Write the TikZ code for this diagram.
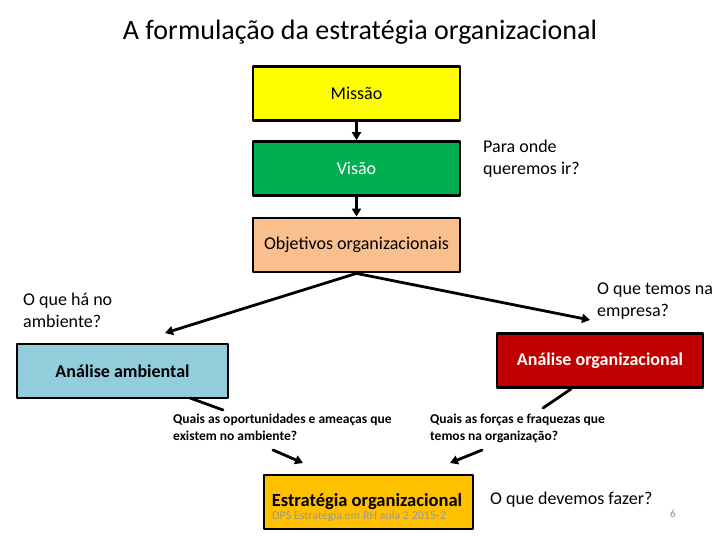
\documentclass[tikz,border=0pt]{standalone}
\usepackage{fontspec}
\setmainfont{Carlito}
\usetikzlibrary{arrows.meta}
\definecolor{amarelo}{RGB}{255,255,0}
\definecolor{verde}{RGB}{0,176,80}
\definecolor{pessego}{RGB}{250,191,143}
\definecolor{azulclaro}{RGB}{146,205,220}
\definecolor{vermelho}{RGB}{192,0,0}
\definecolor{ouro}{RGB}{255,192,0}
\tikzset{
  caixa/.style={draw=black,line width=2.8pt,minimum width=207pt,minimum height=54pt,inner sep=0pt},
  seta/.style={line width=2.8pt,-{Triangle[length=8pt,width=9pt]}},
  traco/.style={line width=2.8pt},
  pergunta/.style={anchor=north west,align=left,inner sep=0pt,font=\fontsize{18}{22}\selectfont},
  nota/.style={anchor=north west,align=left,inner sep=0pt,font=\bfseries\fontsize{13.5}{17}\selectfont}
}
\begin{document}
\begin{tikzpicture}[line cap=round,line join=round,x=1pt,y=-1pt]
    \useasboundingbox (0,0) rectangle (720,540);

    % titulo
    \node (titulo) at (360,32) {\fontsize{28}{32}\selectfont A formulação da estratégia organizacional};

    % caixas centrais
    \node[caixa,fill=amarelo] (missao) at (356.5,93.5) {\fontsize{18}{20}\selectfont Missão};
    \node[caixa,fill=verde] (visao) at (356.5,168.5) {\fontsize{18}{20}\selectfont\color{white}Visão};
    \node[caixa,fill=pessego] (objetivos) at (356.5,245) {\fontsize{18}{20}\selectfont Objetivos organizacionais};

    \draw [seta] (missao.south) -- (visao.north);
    \draw [seta] (visao.south) -- (objetivos.north);

    \node[pergunta] (paraonde) at (483,140) {Para onde\\queremos ir?};

    % analises
    \node[caixa,fill=azulclaro,minimum width=211pt] (ambiental) at (122.5,371) {\bfseries\fontsize{18}{20}\selectfont Análise ambiental};
    \node[caixa,fill=vermelho,minimum width=206pt] (organizacional) at (600,360.5) {\bfseries\fontsize{18}{20}\selectfont\color{white}Análise organizacional};

    \coordinate (pontaamb) at (165,333);
    \coordinate (pontaorg) at (590,320);
    \draw [seta] (objetivos.south) -- (pontaamb);
    \draw [seta] (objetivos.south) -- (pontaorg);

    \node[pergunta] (oquehano) at (23,293) {O que há no\\ambiente?};
    \node[pergunta] (oquetemos) at (597,283) {O que temos na\\empresa?};

    % perguntas de analise
    \node[nota] (oportunidades) at (173,414) {Quais as oportunidades e ameaças que\\existem no ambiente?};
    \node[nota] (forcas) at (430,414) {Quais as forças e fraquezas que\\temos na organização?};

    \coordinate (saidaamb) at (190,398);
    \coordinate (chegaamb) at (223,410);
    \coordinate (saidaorg) at (571,389);
    \coordinate (chegaorg) at (543,408);
    \draw [traco] (saidaamb) -- (chegaamb);
    \draw [traco] (saidaorg) -- (chegaorg);

    % estrategia
    \node[caixa,fill=ouro,minimum width=209pt] (estrategia) at (368.5,502) {};
    \node (estrategiatxt) at (367,502) {\bfseries\fontsize{18.5}{20}\selectfont Estratégia organizacional};
    \node[anchor=west,inner sep=0pt,text=black!40] (rodape) at (272,516) {\fontsize{12}{13}\selectfont DPS Estratégia em RH aula 2 2015-2};

    \coordinate (deoport) at (273,450);
    \coordinate (deforcas) at (482,450);
    \coordinate (paraesq) at (303,463);
    \coordinate (paradir) at (450,463);
    \draw [seta] (deoport) -- (paraesq);
    \draw [seta] (deforcas) -- (paradir);

    \node[anchor=west,inner sep=0pt] (devemos) at (490,500) {\fontsize{18}{20}\selectfont O que devemos fazer?};
    \node[text=black!45] (pagina) at (673,514) {\fontsize{11}{12}\selectfont 6};
\end{tikzpicture}
\end{document}
